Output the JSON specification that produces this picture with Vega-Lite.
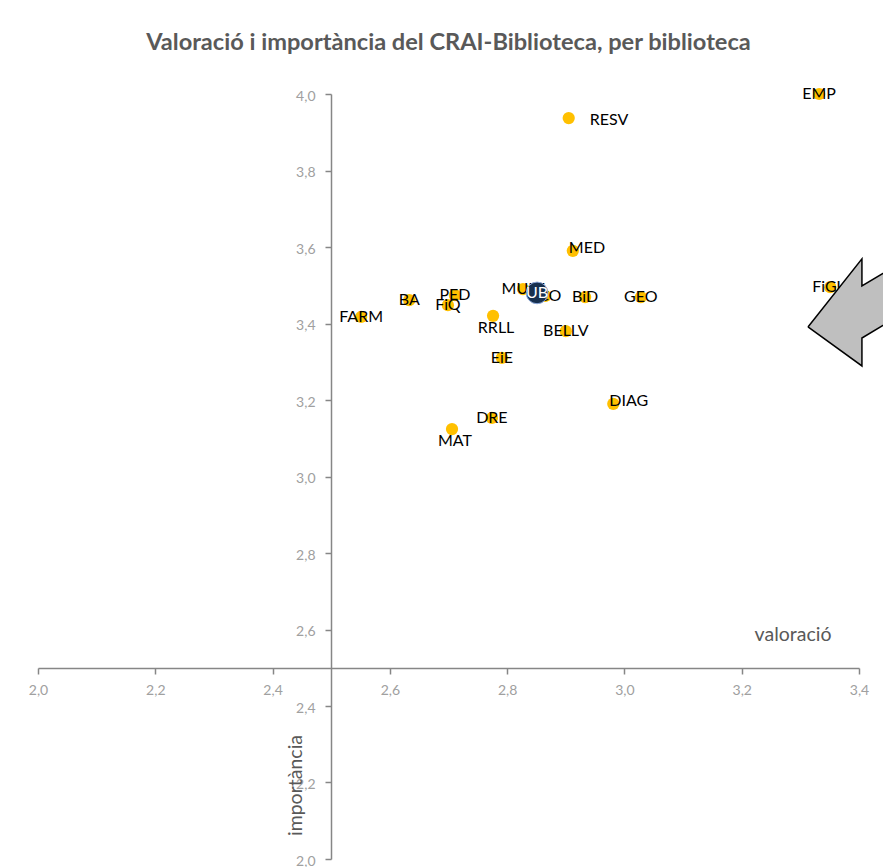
{
  "$schema": "https://vega.github.io/schema/vega-lite/v6.json",
  "width": 821,
  "height": 765,
  "autosize": {"type": "none"},
  "padding": {"left": 38, "top": 94, "right": 24, "bottom": 8},
  "background": "white",
  "title": {
    "text": "Valoració i importància del CRAI-Biblioteca, per biblioteca",
    "font": "Lato",
    "fontSize": 23.6,
    "fontWeight": "bold",
    "color": "#595959",
    "anchor": "middle",
    "frame": "group",
    "offset": 12,
    "baseline": "alphabetic"
  },
  "config": {
    "view": {"stroke": null},
    "axis": {
      "grid": false,
      "domainColor": "#868686",
      "domainWidth": 1.5,
      "tickColor": "#868686",
      "tickWidth": 1.5,
      "tickSize": 6,
      "labelFont": "Lato",
      "labelFontSize": 14,
      "labelColor": "#a0a0a0",
      "labelFlush": false,
      "labelOverlap": false,
      "titleFont": "Lato",
      "titleFontSize": 19.5,
      "titleFontWeight": "normal",
      "titleColor": "#595959"
    }
  },
  "datasets": {
    "libs": [
      {"biblioteca": "EMP", "valoracio": 3.332, "importancia": 4.0, "pos": "center"},
      {"biblioteca": "RESV", "valoracio": 2.905, "importancia": 3.937, "pos": "right"},
      {"biblioteca": "MED", "valoracio": 2.912, "importancia": 3.59, "pos": "overlapright"},
      {"biblioteca": "FiGU", "valoracio": 3.351, "importancia": 3.495, "pos": "center"},
      {"biblioteca": "GEO", "valoracio": 3.028, "importancia": 3.469, "pos": "center"},
      {"biblioteca": "BiD", "valoracio": 2.933, "importancia": 3.469, "pos": "center"},
      {"biblioteca": "MULT", "valoracio": 2.827, "importancia": 3.49, "pos": "center"},
      {"biblioteca": "ECO", "valoracio": 2.865, "importancia": 3.472, "pos": "center"},
      {"biblioteca": "PED", "valoracio": 2.711, "importancia": 3.474, "pos": "center"},
      {"biblioteca": "FiQ", "valoracio": 2.699, "importancia": 3.448, "pos": "center"},
      {"biblioteca": "BA", "valoracio": 2.633, "importancia": 3.461, "pos": "center"},
      {"biblioteca": "FARM", "valoracio": 2.551, "importancia": 3.417, "pos": "center"},
      {"biblioteca": "RRLL", "valoracio": 2.776, "importancia": 3.42, "pos": "below"},
      {"biblioteca": "BELLV", "valoracio": 2.9, "importancia": 3.38, "pos": "center"},
      {"biblioteca": "EiE", "valoracio": 2.791, "importancia": 3.31, "pos": "center"},
      {"biblioteca": "DIAG", "valoracio": 2.981, "importancia": 3.19, "pos": "overlapright"},
      {"biblioteca": "DRE", "valoracio": 2.774, "importancia": 3.153, "pos": "center"},
      {"biblioteca": "MAT", "valoracio": 2.706, "importancia": 3.124, "pos": "below"}
    ],
    "ub": [
      {"biblioteca": "UB", "valoracio": 2.851, "importancia": 3.48}
    ],
    "arrow": [
      {"ordre": 1, "valoracio": 3.313, "importancia": 3.391},
      {"ordre": 2, "valoracio": 3.405, "importancia": 3.569},
      {"ordre": 3, "valoracio": 3.405, "importancia": 3.498},
      {"ordre": 4, "valoracio": 3.47, "importancia": 3.558},
      {"ordre": 5, "valoracio": 3.47, "importancia": 3.422},
      {"ordre": 6, "valoracio": 3.405, "importancia": 3.362},
      {"ordre": 7, "valoracio": 3.405, "importancia": 3.289},
      {"ordre": 8, "valoracio": 3.313, "importancia": 3.391}
    ]
  },
  "layer": [
    {
      "data": {"name": "libs"},
      "mark": {"type": "circle", "size": 150, "color": "#FFC000", "opacity": 1},
      "encoding": {
        "x": {
          "field": "valoracio",
          "type": "quantitative",
          "scale": {"domain": [2.0, 3.4], "nice": false, "zero": false},
          "axis": {
            "values": [2.0, 2.2, 2.4, 2.6, 2.8, 3.0, 3.2, 3.4],
            "labelExpr": "replace(format(datum.value, '.1f'), '.', ',')",
            "offset": -191,
            "labelPadding": 9,
            "title": "valoració",
            "titleX": 793,
            "titleY": -28,
            "titleAlign": "right",
            "titleBaseline": "alphabetic",
            "titleAnchor": null
          }
        },
        "y": {
          "field": "importancia",
          "type": "quantitative",
          "scale": {"domain": [2.0, 4.0], "nice": false, "zero": false},
          "axis": {
            "values": [2.0, 2.2, 2.4, 2.6, 2.8, 3.0, 3.2, 3.4, 3.6, 3.8, 4.0],
            "labelExpr": "replace(format(datum.value, '.1f'), '.', ',')",
            "offset": -293,
            "labelPadding": 10,
            "labelOffset": 2,
            "title": "importància",
            "titleX": -36,
            "titleY": 691,
            "titleAngle": -90,
            "titleAlign": "center",
            "titleBaseline": "middle",
            "titleAnchor": null
          }
        }
      }
    },
    {
      "data": {"name": "libs"},
      "transform": [{"filter": "datum.pos === 'center'"}],
      "mark": {"type": "text", "font": "Lato", "fontSize": 16, "color": "#000000", "align": "center", "baseline": "middle"},
      "encoding": {
        "x": {"field": "valoracio", "type": "quantitative"},
        "y": {"field": "importancia", "type": "quantitative"},
        "text": {"field": "biblioteca"}
      }
    },
    {
      "data": {"name": "libs"},
      "transform": [{"filter": "datum.pos === 'right'"}],
      "mark": {"type": "text", "font": "Lato", "fontSize": 16, "color": "#000000", "align": "left", "baseline": "middle", "dx": 21, "dy": 2},
      "encoding": {
        "x": {"field": "valoracio", "type": "quantitative"},
        "y": {"field": "importancia", "type": "quantitative"},
        "text": {"field": "biblioteca"}
      }
    },
    {
      "data": {"name": "libs"},
      "transform": [{"filter": "datum.pos === 'overlapright'"}],
      "mark": {"type": "text", "font": "Lato", "fontSize": 16, "color": "#000000", "align": "left", "baseline": "middle", "dx": -4, "dy": -3},
      "encoding": {
        "x": {"field": "valoracio", "type": "quantitative"},
        "y": {"field": "importancia", "type": "quantitative"},
        "text": {"field": "biblioteca"}
      }
    },
    {
      "data": {"name": "libs"},
      "transform": [{"filter": "datum.pos === 'below'"}],
      "mark": {"type": "text", "font": "Lato", "fontSize": 16, "color": "#000000", "align": "center", "baseline": "middle", "dx": 3, "dy": 12},
      "encoding": {
        "x": {"field": "valoracio", "type": "quantitative"},
        "y": {"field": "importancia", "type": "quantitative"},
        "text": {"field": "biblioteca"}
      }
    },
    {
      "data": {"name": "ub"},
      "mark": {"type": "circle", "size": 470, "color": "#17304F", "opacity": 1, "stroke": "#8EA9DB", "strokeWidth": 1},
      "encoding": {
        "x": {"field": "valoracio", "type": "quantitative"},
        "y": {"field": "importancia", "type": "quantitative"}
      }
    },
    {
      "data": {"name": "ub"},
      "mark": {"type": "text", "font": "Lato", "fontSize": 16, "color": "#ffffff", "align": "center", "baseline": "middle"},
      "encoding": {
        "x": {"field": "valoracio", "type": "quantitative"},
        "y": {"field": "importancia", "type": "quantitative"},
        "text": {"field": "biblioteca"}
      }
    },
    {
      "data": {"name": "arrow"},
      "mark": {"type": "line", "fill": "#bfbfbf", "stroke": "#000000", "strokeWidth": 1.5, "clip": false},
      "encoding": {
        "x": {"field": "valoracio", "type": "quantitative"},
        "y": {"field": "importancia", "type": "quantitative"},
        "order": {"field": "ordre", "type": "quantitative"}
      }
    }
  ]
}
